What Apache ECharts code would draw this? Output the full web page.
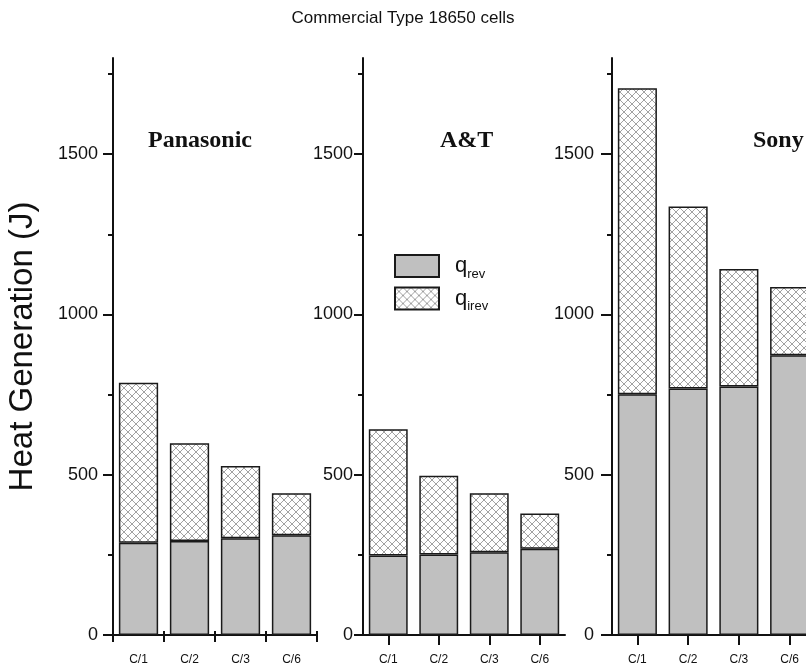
<!DOCTYPE html>
<html>
<head>
<meta charset="utf-8">
<script src="https://cdn.jsdelivr.net/npm/echarts@6/dist/echarts.min.js"></script>
<style>
html,body{margin:0;padding:0;background:#fff;}
#chart{width:806px;height:669px;}
</style>
</head>
<body>
<div id="chart"></div>
<script>
// ---- data ----
const categories = ['C/1', 'C/2', 'C/3', 'C/6'];
const panelNames = ['Panasonic', 'A&T', 'Sony'];
const panasonicRev = [288, 293, 302, 311];
const panasonicIrev = [499, 305, 225, 131];
const atRev = [248, 251, 258, 269];
const atIrev = [394, 246, 184, 110];
const sonyRev = [751, 769, 775, 873];
const sonyIrev = [955, 568, 367, 213];
const yMajorTicks = [0, 500, 1000, 1500];
const yMinorTicks = [250, 750, 1250, 1750];
const yMax = 1800;

const revSets = [panasonicRev, atRev, sonyRev];
const irevSets = [panasonicIrev, atIrev, sonyIrev];

// ---- hatch pattern ----
function makeHatch() {
  const c = document.createElement('canvas');
  c.width = 8; c.height = 8;
  const ctx = c.getContext('2d');
  ctx.fillStyle = '#ffffff';
  ctx.fillRect(0, 0, 8, 8);
  ctx.strokeStyle = '#8a8a8a';
  ctx.lineWidth = 0.8;
  ctx.beginPath();
  ctx.moveTo(0, 0); ctx.lineTo(8, 8);
  ctx.moveTo(8, 0); ctx.lineTo(0, 8);
  ctx.stroke();
  return c;
}
const hatch = { image: makeHatch(), repeat: 'repeat' };

const grids = [
  { left: 113, top: 58, width: 204, height: 577, outerBoundsMode: 'none', containLabel: false },
  { left: 363, top: 58, width: 202, height: 577, outerBoundsMode: 'none', containLabel: false },
  { left: 612, top: 58, width: 203, height: 577, outerBoundsMode: 'none', containLabel: false }
];
const labelMargins = [15, 10, 18];
const majorLens = [10, 9, 11];

const xAxes = [];
const yAxes = [];
const series = [];
const axisColor = '#111';

for (let i = 0; i < 3; i++) {
  const first = i === 0;
  xAxes.push({
    type: 'category', gridIndex: i, data: categories, position: 'bottom',
    axisLine: { show: true, lineStyle: { color: axisColor, width: 2 } },
    axisTick: { show: true, alignWithLabel: !first, length: first ? 7 : 10, lineStyle: { color: axisColor, width: 2 } },
    axisLabel: { fontFamily: 'Liberation Sans', fontSize: 12, color: '#111', margin: 19 },
    splitLine: { show: false }
  });
  if (first) {
    xAxes.push({
      type: 'category', gridIndex: i, data: categories, position: 'bottom',
      axisLine: { show: false },
      axisTick: { show: true, inside: true, length: 4, lineStyle: { color: axisColor, width: 2 } },
      axisLabel: { show: false },
      splitLine: { show: false }
    });
  }
  yAxes.push({
    type: 'value', gridIndex: i, min: 0, max: yMax, position: 'left',
    name: first ? 'Heat Generation (J)' : '',
    nameLocation: 'middle', nameGap: 74, nameRotate: 90,
    nameTextStyle: { fontFamily: 'Liberation Sans', fontSize: 33, color: '#111' },
    axisLine: { show: true, lineStyle: { color: axisColor, width: 2 } },
    axisTick: { show: true, customValues: yMajorTicks, length: majorLens[i], lineStyle: { color: axisColor, width: 2 } },
    axisLabel: { customValues: yMajorTicks, formatter: function (v) { return String(v); },
      fontFamily: 'Liberation Sans', fontSize: 18, color: '#111', margin: labelMargins[i] },
    splitLine: { show: false }
  });
  yAxes.push({
    type: 'value', gridIndex: i, min: 0, max: yMax, position: 'left', offset: 0,
    axisLine: { show: false },
    axisTick: { show: true, customValues: yMinorTicks, length: 5, lineStyle: { color: axisColor, width: 2 } },
    axisLabel: { show: false },
    splitLine: { show: false }
  });
}

const xIndexFor = [0, 2, 3];
for (let i = 0; i < 3; i++) {
  series.push({
    name: 'q_rev', type: 'bar', stack: 'p' + i,
    xAxisIndex: xIndexFor[i], yAxisIndex: i * 2,
    data: revSets[i], barCategoryGap: '23%',
    itemStyle: { color: '#c0c0c0', borderColor: '#1a1a1a', borderWidth: 1.5 },
    emphasis: { disabled: true }
  });
  series.push({
    name: 'q_irev', type: 'bar', stack: 'p' + i,
    xAxisIndex: xIndexFor[i], yAxisIndex: i * 2,
    data: irevSets[i], barCategoryGap: '23%',
    itemStyle: { color: hatch, borderColor: '#1a1a1a', borderWidth: 1.5 },
    emphasis: { disabled: true }
  });
}

const chart = echarts.init(document.getElementById('chart'), null, { renderer: 'canvas' });
chart.setOption({
  backgroundColor: '#ffffff',
  animation: false,
  title: [
    { text: 'Commercial Type 18650 cells', left: 'center', top: 10, padding: 0,
      textStyle: { fontFamily: 'Liberation Sans', fontSize: 17, fontWeight: 'normal', color: '#111' } },
    { text: panelNames[0], left: 148, top: 129, padding: 0,
      textStyle: { fontFamily: 'Liberation Serif', fontSize: 24, fontWeight: 'bold', color: '#111' } },
    { text: panelNames[1], left: 440, top: 129, padding: 0,
      textStyle: { fontFamily: 'Liberation Serif', fontSize: 24, fontWeight: 'bold', color: '#111' } },
    { text: panelNames[2], left: 753, top: 129, padding: 0,
      textStyle: { fontFamily: 'Liberation Serif', fontSize: 24, fontWeight: 'bold', color: '#111' } }
  ],
  legend: {
    data: ['q_rev', 'q_irev'], orient: 'vertical', left: 394, top: 254, padding: 0,
    itemWidth: 44, itemHeight: 22, itemGap: 6, icon: 'rect',
    selectedMode: false,
    formatter: function (name) {
      return '{q|q}{s|' + name.split('_')[1] + '}';
    },
    textStyle: {
      color: '#111',
      rich: {
        q: { fontFamily: 'Liberation Sans', fontSize: 22, color: '#111', padding: [0, 0, 0, 11] },
        s: { fontFamily: 'Liberation Sans', fontSize: 13, color: '#111', padding: [16, 0, 0, 0] }
      }
    }
  },
  grid: grids,
  xAxis: xAxes,
  yAxis: yAxes,
  series: series
});
</script>
</body>
</html>
